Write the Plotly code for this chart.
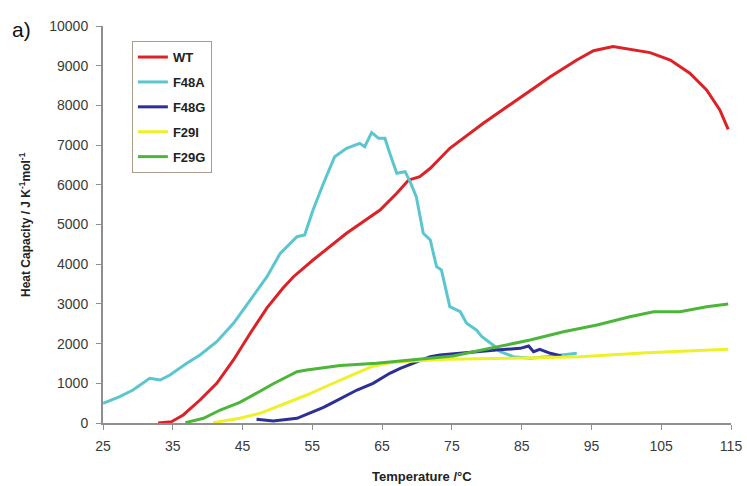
import plotly.graph_objects as go

# ---- data ----
wt_x = [32.9, 34.8, 36.5, 38.9, 41.3, 43.7, 46.1, 48.5, 50.8, 52.3, 55.1, 59.9, 64.7, 67.1, 68.8,
        70.4, 71.9, 74.7, 79.5, 84.3, 89.1, 92.9, 95.3, 98.1, 101.0, 103.4, 106.3, 109.1, 111.5,
        113.4, 114.6]
wt_y = [0, 33, 202, 579, 1000, 1587, 2260, 2900, 3400, 3685, 4106, 4778, 5365, 5786, 6121,
        6205, 6416, 6920, 7550, 8136, 8723, 9144, 9378, 9480, 9396, 9330, 9144, 8809, 8388,
        7885, 7398]

f48a_x = [25.0, 27.4, 29.3, 31.7, 33.2, 34.6, 37.0, 38.9, 41.3, 43.7, 46.1, 48.5, 50.4, 52.8,
          53.9, 55.1, 56.6, 58.2, 59.9, 61.8, 62.5, 63.5, 64.5, 65.4, 66.1, 67.1, 68.3, 69.0,
          69.9, 70.9, 71.9, 72.8, 73.5, 74.7, 76.2, 77.1, 78.5, 79.3, 80.9, 81.9, 83.8, 86.2,
          88.6, 92.9]
f48a_y = [496, 663, 831, 1125, 1083, 1209, 1504, 1713, 2048, 2511, 3098, 3685, 4274, 4693,
          4736, 5365, 6038, 6708, 6920, 7045, 6960, 7313, 7170, 7170, 6794, 6290, 6330, 6080,
          5700, 4778, 4610, 3937, 3854, 2930, 2804, 2511, 2343, 2174, 1965, 1800, 1670, 1630,
          1670, 1755]

f48g_x = [47.0, 49.4, 52.8, 55.1, 56.6, 58.0, 61.4, 63.7, 66.1, 67.6, 69.5, 71.9, 73.3, 75.7,
          81.4, 84.8, 86.0, 86.7, 87.6, 89.1, 90.7]
f48g_y = [92, 50, 118, 285, 395, 520, 831, 1000, 1252, 1377, 1504, 1670, 1713, 1755,
          1839, 1881, 1940, 1796, 1856, 1755, 1688]

f29i_x = [40.8, 44.6, 47.5, 49.4, 51.5, 54.2, 57.1, 59.0, 61.5, 63.7, 66.1, 67.6, 74.3, 83.8,
          93.4, 102.9, 114.6]
f29i_y = [8, 118, 244, 370, 520, 705, 932, 1083, 1270, 1430, 1519, 1545, 1604, 1630,
          1670, 1771, 1856]

f29g_x = [36.8, 39.4, 41.8, 44.6, 47.5, 49.4, 52.8, 54.2, 59.0, 64.2, 67.6, 75.2, 80.5, 86.2,
          91.0, 95.8, 100.5, 103.9, 107.7, 111.5, 114.6]
f29g_y = [8, 118, 327, 520, 800, 990, 1293, 1335, 1450, 1504, 1562, 1690, 1881, 2090,
          2300, 2469, 2678, 2804, 2804, 2930, 2998]

series_names = ["WT", "F48A", "F48G", "F29I", "F29G"]
series_colors = ["#dc2226", "#5cc6cf", "#2b2f96", "#eef02a", "#4cb53a"]

x_ticks = [25, 35, 45, 55, 65, 75, 85, 95, 105, 115]
y_ticks = [0, 1000, 2000, 3000, 4000, 5000, 6000, 7000, 8000, 9000, 10000]

xs = [wt_x, f48a_x, f48g_x, f29i_x, f29g_x]
ys = [wt_y, f48a_y, f48g_y, f29i_y, f29g_y]

fig = go.Figure()
for name, col, x, y in zip(series_names, series_colors, xs, ys):
    fig.add_trace(go.Scatter(x=x, y=y, mode="lines", name="<b>%s</b>" % name, legendgroup=name,
                             line=dict(color=col, width=3)))

FONT = "Liberation Sans, Arial, sans-serif"
axis_col = "#8f8f8f"
tick_font = dict(family=FONT, size=14, color="#3a3a3a")
fig.update_layout(
    width=747, height=486,
    margin=dict(l=103, r=16, t=26, b=63, autoexpand=False),
    paper_bgcolor="white", plot_bgcolor="white",
    font=dict(family=FONT),
    showlegend=True,
    legend=dict(x=0.046, y=0.962, xanchor="left", yanchor="top",
                bgcolor="white", bordercolor="#a89c8c", borderwidth=1,
                font=dict(size=13, color="#222222", family=FONT),
                tracegroupgap=5, itemwidth=30),
    xaxis=dict(range=[25, 115], tickvals=x_ticks, ticktext=[str(v) for v in x_ticks],
               showgrid=False, zeroline=False, showline=True, linecolor=axis_col, linewidth=2,
               ticks="outside", tickcolor=axis_col, ticklen=5, tickwidth=1, tickfont=tick_font,
               ticklabelstandoff=4, automargin=False),
    yaxis=dict(range=[0, 10000], tickvals=y_ticks, ticktext=[str(v) for v in y_ticks],
               showgrid=False, zeroline=False, showline=True, linecolor=axis_col, linewidth=2,
               ticks="outside", tickcolor=axis_col, ticklen=5, tickwidth=1, tickfont=tick_font,
               ticklabelstandoff=5, automargin=False),
)

# axis titles
fig.add_annotation(text="<b>Temperature /°C</b>", xref="paper", yref="paper",
                   x=0.508, y=-0.136, xanchor="center", yanchor="middle", showarrow=False,
                   font=dict(size=13, color="#222222", family=FONT))
fig.add_annotation(text="<b>Heat Capacity / J K<sup>-1</sup>mol<sup>-1</sup></b>",
                   xref="paper", yref="paper", x=-0.125, y=0.5, textangle=-90,
                   xanchor="center", yanchor="middle", showarrow=False,
                   font=dict(size=12, color="#222222", family=FONT))
# panel label
fig.add_annotation(text="a)", xref="paper", yref="paper", x=-0.129, y=0.992,
                   xanchor="center", yanchor="middle", showarrow=False,
                   font=dict(size=21, color="#111111", family=FONT))

fig.write_html("out.html", config={"displayModeBar": False},
               post_script="document.body.style.margin='0';")
